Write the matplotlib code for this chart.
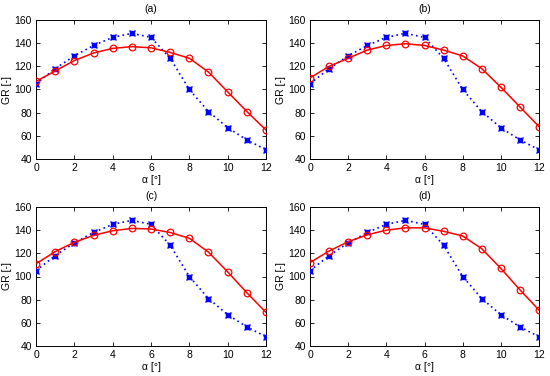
import matplotlib
matplotlib.use("Agg")
import matplotlib.pyplot as plt

alpha = list(range(13))
blue = [105, 118, 129, 138, 145, 148.5, 145, 127, 100, 81, 67, 56.5, 48]
red_a = [107, 116, 125, 131.5, 135.5, 137, 136, 132, 127, 115, 98, 81, 65]
red_b = [110, 120, 127, 134, 138, 139.5, 138, 134, 129, 118, 102, 85, 68]
red_c = [111, 121.5, 129.5, 135.5, 139.5, 141.5, 141, 138, 133, 121, 104, 86, 69]
red_d = [112, 122, 130, 136, 140, 142, 142, 139, 135, 124, 107, 88.5, 71]
titles = ["(a)", "(b)", "(c)", "(d)"]
reds = [red_a, red_b, red_c, red_d]
xticks = [0, 2, 4, 6, 8, 10, 12]
yticks = [40, 60, 80, 100, 120, 140, 160]

plt.rcParams['font.family'] = ['Liberation Sans', 'DejaVu Sans']
plt.rcParams['font.size'] = 7.5

fig = plt.figure(figsize=(5.5, 3.76), dpi=100)
boxes = [(36, 20, 266, 159), (310, 20, 539, 159), (36, 207, 266, 346), (310, 207, 539, 346)]
W, H = 550, 376
for box, title, red in zip(boxes, titles, reds):
    l, t, r, b = box
    ax = fig.add_axes([l / W, 1 - b / H, (r - l) / W, (b - t) / H])
    ax.plot(alpha, blue, color='#0000ff', linestyle=(0, (1, 2)), linewidth=1.2, zorder=2)
    ax.plot(alpha, blue, linestyle='none', marker='s', markersize=3.2, color='#0000ff', zorder=3)
    ax.plot(alpha, blue, linestyle='none', marker='x', markersize=5, markeredgewidth=1.0, color='#0000ff', zorder=3)
    ax.plot(alpha, red, color='#ff0000', linestyle='-', linewidth=1.1, marker='o', markersize=4.8,
            markerfacecolor='none', markeredgecolor='#ff0000', markeredgewidth=0.9, zorder=4)
    ax.set_xlim(0, 12)
    ax.set_ylim(40, 160)
    ax.set_xticks(xticks)
    ax.set_yticks(yticks)
    ax.tick_params(direction='in', top=True, right=True, length=3, width=0.6, pad=3, labelsize=7.5)
    for s in ax.spines.values():
        s.set_linewidth(0.7)
    ax.set_title(title, fontsize=7.5, pad=6)
    ax.set_xlabel('α [°]', fontsize=7.5, labelpad=1)
    ax.set_ylabel('GR [-]', fontsize=7.5, labelpad=2)

fig.savefig('out.png', dpi=100)
